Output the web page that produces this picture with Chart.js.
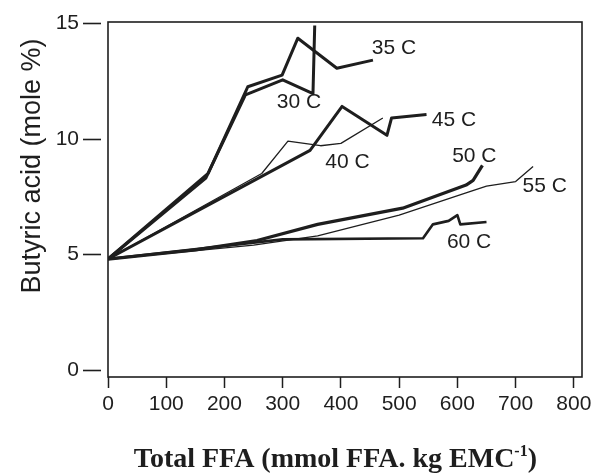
<!DOCTYPE html>
<html>
<head>
<meta charset="utf-8">
<script src="https://cdn.jsdelivr.net/npm/chart.js@4.4.1/dist/chart.umd.min.js"></script>
<style>
  html, body { margin: 0; padding: 0; background: #fff; }
  canvas { display: block; }
</style>
</head>
<body>
<canvas id="butyric" width="596" height="476"></canvas>
<script>
// Butyric acid (mole %) against total FFA, one run per temperature
const ffa30 = [0, 168, 236, 300, 352, 355]
const but30 = [4.8, 8.3, 11.9, 12.55, 11.95, 14.9]

const ffa35 = [0, 172, 240, 299, 326, 393, 455]
const but35 = [4.8, 8.5, 12.25, 12.75, 14.35, 13.05, 13.4]

const ffa40 = [0, 264, 309, 365, 400, 472]
const but40 = [4.8, 8.5, 9.9, 9.7, 9.8, 10.9]

const ffa45 = [0, 347, 402, 479, 487, 547]
const but45 = [4.8, 9.5, 11.4, 10.15, 10.9, 11.05]

const ffa50 = [0, 150, 256, 360, 506, 615, 627, 643]
const but50 = [4.8, 5.2, 5.6, 6.3, 7.0, 8.0, 8.2, 8.85]

const ffa55 = [0, 250, 360, 500, 620, 650, 700, 730]
const but55 = [4.8, 5.4, 5.8, 6.7, 7.7, 7.95, 8.15, 8.8]

const ffa60 = [0, 300, 541, 558, 585, 600, 605, 650]
const but60 = [4.8, 5.65, 5.7, 6.3, 6.45, 6.7, 6.3, 6.4]

const tempLabels = ['30 C', '35 C', '40 C', '45 C', '50 C', '55 C', '60 C']
const xTicks = [0, 100, 200, 300, 400, 500, 600, 700, 800]
const yTicks = [0, 5, 10, 15]

// where each temperature tag sits, in axis units (left edge, middle)
const tagX = [290, 453, 373, 556, 591, 712, 582]
const tagY = [11.6, 13.9, 9.0, 10.8, 9.25, 7.95, 5.55]

const ink = '#1e1e1e'
const pairs = (xs, ys) => xs.map((x, i) => ({ x, y: ys[i] }))

const series = [
  { xs: ffa30, ys: but30, width: 3 },
  { xs: ffa35, ys: but35, width: 3 },
  { xs: ffa40, ys: but40, width: 1.3 },
  { xs: ffa45, ys: but45, width: 3 },
  { xs: ffa50, ys: but50, width: 3.2 },
  { xs: ffa55, ys: but55, width: 1.3 },
  { xs: ffa60, ys: but60, width: 2.6 },
]

const datasets = series.map((s, i) => ({
  label: tempLabels[i],
  data: pairs(s.xs, s.ys),
  borderColor: ink,
  borderWidth: s.width,
  pointRadius: 0,
  tension: 0,
  fill: false,
  borderJoinStyle: 'round',
  borderCapStyle: 'butt',
}))

// frame, detached y tick dashes, axis titles and temperature tags
const decorations = {
  id: 'decorations',
  afterDraw(chart) {
    const { ctx, chartArea: area, scales } = chart
    const xs = scales.x
    const ys = scales.y
    ctx.save()
    ctx.strokeStyle = ink
    ctx.fillStyle = ink
    ctx.lineWidth = 1.6
    ctx.strokeRect(area.left, area.top, area.right - area.left, area.bottom - area.top)

    yTicks.forEach(v => {
      const y = Math.round(ys.getPixelForValue(v)) + 0.5
      ctx.beginPath()
      ctx.moveTo(area.left - 25, y)
      ctx.lineTo(area.left - 7, y)
      ctx.stroke()
    })

    ctx.font = '21px "Liberation Sans", Arial, sans-serif'
    ctx.textAlign = 'left'
    ctx.textBaseline = 'middle'
    tempLabels.forEach((t, i) => {
      ctx.fillText(t, xs.getPixelForValue(tagX[i]), ys.getPixelForValue(tagY[i]))
    })

    // y axis title
    ctx.save()
    ctx.translate(33, 166)
    ctx.rotate(-Math.PI / 2)
    ctx.textAlign = 'center'
    ctx.font = '27px "Liberation Sans", Arial, sans-serif'
    ctx.fillText('Butyric acid (mole %)', 0, 0)
    ctx.restore()

    // x axis title with superscript, right end between the 700 and 800 labels
    ctx.textBaseline = 'alphabetic'
    ctx.textAlign = 'left'
    const main = 'Total FFA (mmol FFA. kg EMC'
    const big = 'bold 28px "Liberation Serif", "Times New Roman", serif'
    const small = 'bold 16px "Liberation Serif", "Times New Roman", serif'
    ctx.font = big
    const wMain = ctx.measureText(main).width
    const wClose = ctx.measureText(')').width
    ctx.font = small
    const wSup = ctx.measureText('-1').width
    const base = 467
    let x = 537 - (wMain + wSup + wClose)
    ctx.font = big
    ctx.fillText(main, x, base)
    x += wMain
    ctx.font = small
    ctx.fillText('-1', x, base - 11)
    x += wSup
    ctx.font = big
    ctx.fillText(')', x, base)
    ctx.restore()
  },
}

const config = {
  type: 'line',
  data: { datasets },
  options: {
    responsive: false,
    animation: false,
    devicePixelRatio: 1,
    layout: { padding: { left: 0, right: 14, top: 22, bottom: 0 } },
    plugins: {
      legend: { display: false },
      tooltip: { enabled: false },
    },
    scales: {
      x: {
        type: 'linear',
        min: 0,
        max: 814,
        afterFit: scale => {
          scale.height = 99
          scale.paddingLeft = 0
          scale.paddingRight = 0
        },
        afterBuildTicks: scale => { scale.ticks = xTicks.map(v => ({ value: v })) },
        grid: {
          drawOnChartArea: false,
          drawTicks: true,
          tickLength: 11,
          tickWidth: 1.5,
          tickColor: ink,
        },
        border: { display: false },
        ticks: {
          color: ink,
          padding: 4,
          maxRotation: 0,
          font: { family: '"Liberation Sans", Arial, sans-serif', size: 21 },
        },
      },
      y: {
        type: 'linear',
        min: -0.3,
        max: 15.05,
        // keep the tick label padding from pushing the plot down
        afterFit: scale => {
          scale.width = 108
          scale.paddingTop = 0
          scale.paddingBottom = 0
        },
        afterBuildTicks: scale => { scale.ticks = yTicks.map(v => ({ value: v })) },
        grid: { display: false, drawTicks: false },
        border: { display: false },
        ticks: {
          color: ink,
          padding: 29,
          font: { family: '"Liberation Sans", Arial, sans-serif', size: 21 },
        },
      },
    },
  },
  plugins: [decorations],
}

const butyricChart = new Chart(document.getElementById('butyric').getContext('2d'), config)
</script>
</body>
</html>
